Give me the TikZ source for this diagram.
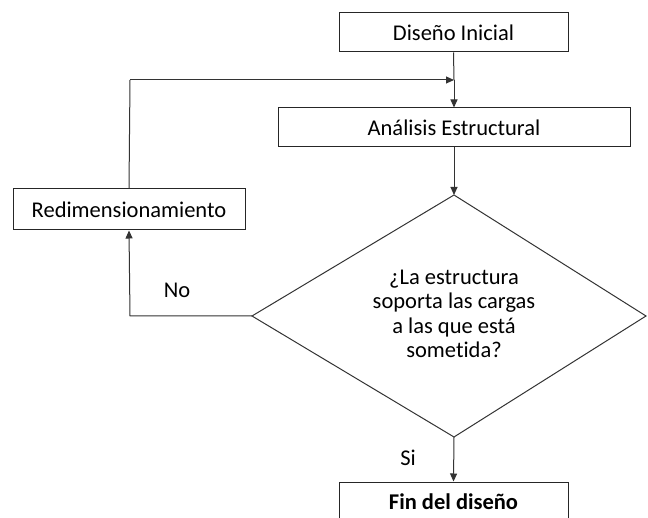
\documentclass[tikz,border=0pt]{standalone}
\usepackage{fontspec}
\setmainfont[RawFeature=-liga]{Carlito}
\usetikzlibrary{arrows.meta,shapes.geometric}
\begin{document}
\begin{tikzpicture}[x=1pt,y=-1pt,
  box/.style={draw=black!85,line width=1pt,fill=white,inner sep=0pt,font=\fontsize{22.5}{26}\selectfont},
  conn/.style={draw=black!80,line width=1pt,-{Triangle[length=8pt,width=7pt]}},
  plain/.style={draw=black!80,line width=1pt},
  lbl/.style={font=\fontsize{22.5}{26}\selectfont}]
\useasboundingbox (0,0) rectangle (648,518);
\clip (0,0) rectangle (648,518);
\node[box,minimum width=229pt,minimum height=39pt] (ini) at (453.5,32.5) {Diseño Inicial};
\node[box,minimum width=352pt,minimum height=39pt] (ana) at (454,127.5) {Análisis Estructural};
\node[box,minimum width=232pt,minimum height=41pt] (red) at (129,209.5) {Redimensionamiento};
\node[box,minimum width=229pt,minimum height=40pt] (fin) at (453.5,502) {};
\node[lbl,font=\fontsize{22.5}{26}\selectfont\bfseries] (fint) at (453.5,502) {Fin del diseño};
\coordinate (dt) at (454,195);
\coordinate (dl) at (252,316);
\coordinate (dr) at (646,316);
\coordinate (db) at (454,437);
\draw[plain] (dt) -- (dr) -- (db) -- (dl) -- cycle;
\node[lbl,align=center,font=\fontsize{22.5}{24.4}\selectfont] (q) at (454,314) {¿La estructura\\soporta las cargas\\a las que está\\sometida?};
\coordinate (m) at (454,80);
\coordinate (cl) at (130,316);
\coordinate (tl) at (130,80);
\draw[plain] (ini.south) -- (m);
\draw[conn] (m) -- (ana.north);
\draw[conn] (ana.south) -- (dt);
\draw[conn] (db) -- (fin.north);
\draw[conn] (dl) -- (cl) -- (red.south);
\draw[plain] (red.north) -- (tl);
\draw[conn] (tl) -- (m);
\node[lbl] (no) at (177,290) {No};
\node[lbl] (si) at (408,458) {Si};
\end{tikzpicture}
\end{document}
